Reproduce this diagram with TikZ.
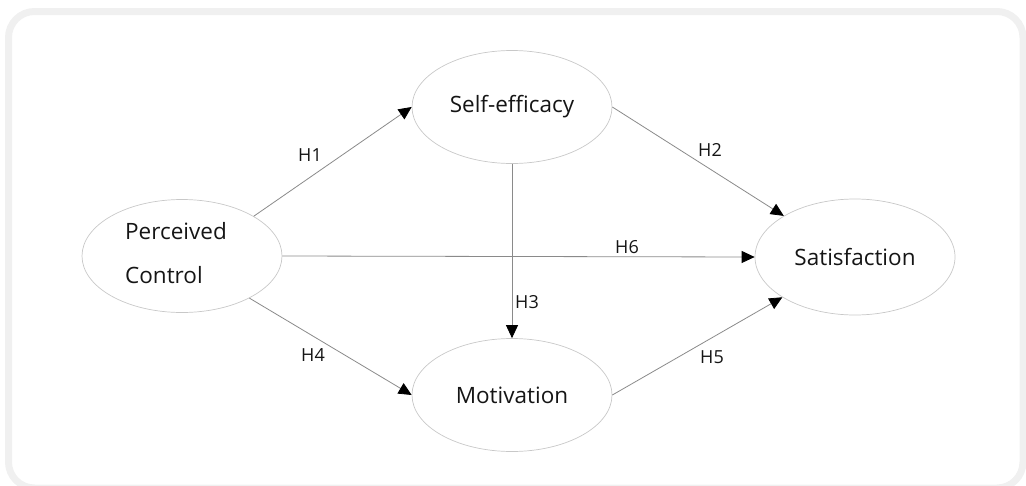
\documentclass[tikz,border=0pt]{standalone}
\usepackage{fontspec}
\setmainfont{Open Sans}
\usetikzlibrary{arrows.meta,shapes.geometric}
\definecolor{framegray}{HTML}{F0F0F0}
\definecolor{ellgray}{HTML}{C8C8C8}
\definecolor{linegray}{HTML}{8A8A8A}
\definecolor{textblack}{HTML}{151515}
\tikzset{
  construct/.style={ellipse, draw=ellgray, line width=0.7pt, minimum width=200pt, minimum height=113pt, inner sep=0pt, text=textblack, font=\fontsize{22.5}{27}\selectfont},
  path/.style={draw=linegray, line width=0.8pt, -{Triangle[length=13pt,width=12pt,color=black]}},
  hyp/.style={text=textblack, font=\fontsize{18}{21}\selectfont, inner sep=0pt}
}
\begin{document}
\begin{tikzpicture}[x=1pt,y=-1pt]
\clip (0,0) rectangle (1026,485);
\useasboundingbox (0,0) rectangle (1026,485);
\draw[framegray, line width=7pt, rounded corners=26pt] (8.5,11.5) rectangle (1023,488);

\node[construct] (pc) at (182,256) {\raisebox{-3pt}{\begin{tabular}{@{}l@{}}Perceived\\[17pt]Control\end{tabular}}\hspace{12pt}\null};
\node[construct] (se) at (512,107) {Self-efficacy};
\node[construct] (mo) at (512,395) {Motivation};
\node[construct, minimum height=116pt] (sat) at (855,257) {Satisfaction};

\draw[path] (pc.29) -- (se.west);
\draw[path] (se.east) -- (sat.150);
\draw[path] (pc.east) -- (sat.west);
\draw[path] (se.south) -- (mo.north);
\draw[path] (pc.-32) -- (mo.west);
\draw[path] (mo.east) -- (sat.209);

\node[hyp] (h1) at (310,155) {H1};
\node[hyp] (h2) at (710,150) {H2};
\node[hyp] (h6) at (627,247) {H6};
\node[hyp] (h3) at (527,302) {H3};
\node[hyp] (h4) at (313,355) {H4};
\node[hyp] (h5) at (712,357) {H5};
\end{tikzpicture}
\end{document}
